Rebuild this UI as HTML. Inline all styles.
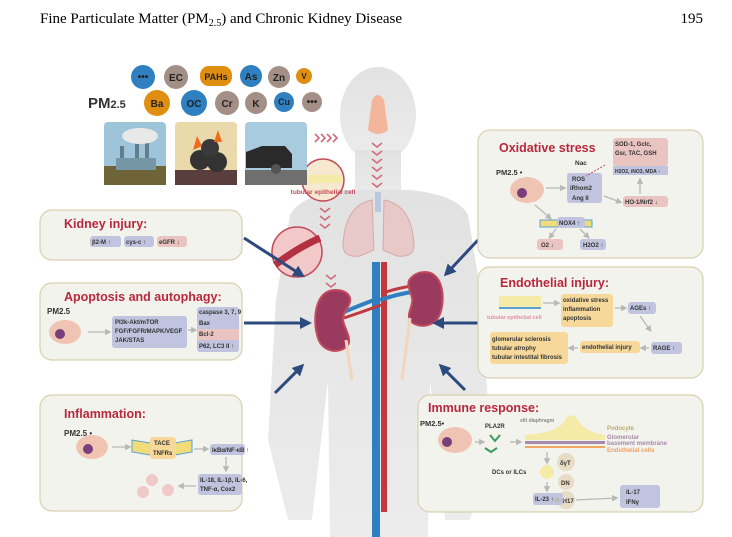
<!DOCTYPE html>
<html><head><meta charset="utf-8"><style>
html,body{margin:0;padding:0;background:#fff;}
svg{display:block;}
.t{font-family:"Liberation Sans",sans-serif;font-weight:bold;}
</style></head><body>
<svg width="732" height="537" viewBox="0 0 732 537" xmlns="http://www.w3.org/2000/svg">
<defs>
<marker id="ah" markerWidth="4" markerHeight="4" refX="2" refY="2" orient="auto"><path d="M0,0 L4,2 L0,4 z" fill="#2c4a7e"/></marker>
<marker id="ga" markerWidth="5" markerHeight="5" refX="3" refY="2.5" orient="auto"><path d="M0,0 L5,2.5 L0,5 z" fill="#b8b8b8"/></marker>
<linearGradient id="fade" x1="0" y1="0" x2="0" y2="1"><stop offset="0" stop-color="#e2e2e2"/><stop offset="1" stop-color="#ececec"/></linearGradient>
</defs>
<text x="40" y="23" font-family="Liberation Serif,serif" font-size="15">Fine Particulate Matter (PM<tspan font-size="10" dy="3">2.5</tspan><tspan dy="-3">) and Chronic Kidney Disease</tspan></text>
<text x="703" y="23" font-family="Liberation Serif,serif" font-size="15" text-anchor="end">195</text>

<!-- human silhouette -->
<g fill="url(#fade)">
<ellipse cx="378" cy="115" rx="38" ry="48"/>
<rect x="355" y="150" width="46" height="55"/>
<path d="M290,215 Q300,195 345,190 L410,190 Q458,195 468,215 L482,300 L490,440 L470,520 L445,520 L430,380 L428,537 L330,537 L328,380 L312,520 L288,520 L268,440 L276,300 Z"/>
</g>
<path d="M372,100 Q378,90 384,100 L388,130 Q378,138 368,130 Z" fill="#f4b69a"/>
<g fill="none" stroke="#d06a7c" stroke-width="1.6">
<path d="M372,143 l5,4 l5,-4 M372,151 l5,4 l5,-4 M372,159 l5,4 l5,-4 M372,167 l5,4 l5,-4 M372,175 l5,4 l5,-4 M372,183 l5,4 l5,-4"/>
<path d="M320,208 l5,4 l5,-4 M320,216 l5,4 l5,-4 M320,224 l5,4 l5,-4"/>
<path d="M326,275 l5,4 l5,-4 M326,283 l5,4 l5,-4"/>
<path d="M315,134 l4,4 l-4,4 M321,134 l4,4 l-4,4 M327,134 l4,4 l-4,4 M333,134 l4,4 l-4,4"/>
</g>
<!-- lungs -->
<path d="M372,200 Q345,205 343,245 Q343,258 360,256 L374,250 Z" fill="#e7c9c9" stroke="#d8a8a8"/>
<path d="M384,200 Q412,205 414,245 Q414,258 397,256 L383,250 Z" fill="#e7c9c9" stroke="#d8a8a8"/>
<rect x="375" y="192" width="6" height="20" fill="#b9c8dc"/>
<!-- vessels -->
<rect x="372" y="262" width="8" height="275" fill="#2f7fc1"/>
<rect x="381" y="262" width="6" height="250" fill="#c0393f"/>
<path d="M344,312 Q358,306 374,300" stroke="#2f7fc1" stroke-width="4" fill="none"/>
<path d="M344,318 Q362,312 381,305" stroke="#c0393f" stroke-width="3" fill="none"/>
<path d="M412,292 Q398,294 380,300" stroke="#2f7fc1" stroke-width="4" fill="none"/>
<path d="M412,286 Q398,288 386,292" stroke="#c0393f" stroke-width="3" fill="none"/>
<!-- kidneys -->
<path d="M335,290 C315,290 312,320 318,338 C322,352 340,355 348,345 C352,338 344,328 343,320 C342,312 352,305 350,298 C348,292 342,290 335,290Z" fill="#9a3a5e" stroke="#c24a5a" stroke-width="2"/>
<path d="M425,272 C445,272 446,305 438,318 C432,328 415,328 410,320 C406,314 414,305 412,298 C410,290 405,282 412,277 C416,273 420,272 425,272Z" fill="#9a3a5e" stroke="#c24a5a" stroke-width="2"/>
<path d="M346,340 L352,380" stroke="#f1d6bd" stroke-width="3"/>
<path d="M410,318 L402,380" stroke="#f1d6bd" stroke-width="3"/>
<!-- circles -->
<circle cx="323" cy="180" r="21" fill="#f7e8d0" stroke="#c24a5a" stroke-width="1.5"/>
<rect x="304" y="175" width="38" height="8" fill="#f4eba8"/>
<text x="323" y="194" class="t" font-size="6.5" fill="#c24a5a" text-anchor="middle">tubular epithelial cell</text>
<circle cx="297" cy="252" r="25" fill="#f2c8c8" stroke="#c24a5a" stroke-width="1.5"/>
<path d="M275,265 Q297,248 320,238" stroke="#b23040" stroke-width="7" fill="none"/>

<!-- navy arrows -->
<g stroke="#2c4a7e" stroke-width="3" marker-end="url(#ah)">
<line x1="244" y1="238" x2="300" y2="274"/>
<line x1="244" y1="323" x2="306" y2="323"/>
<line x1="275" y1="393" x2="300" y2="368"/>
<line x1="478" y1="240" x2="448" y2="272"/>
<line x1="478" y1="323" x2="438" y2="323"/>
<line x1="465" y1="390" x2="443" y2="368"/>
</g>

<!-- elements -->
<g class="t" font-size="10" text-anchor="middle">
<circle cx="143" cy="77" r="12" fill="#2f80c0"/><text x="143" y="80" fill="#222">•••</text>
<circle cx="176" cy="77" r="12" fill="#a48f86"/><text x="176" y="81" fill="#222">EC</text>
<rect x="200" y="66" width="32" height="20" rx="9" fill="#e08e12"/><text x="216" y="80" font-size="9" fill="#222">PAHs</text>
<circle cx="251" cy="76" r="11" fill="#2f80c0"/><text x="251" y="80" fill="#222">As</text>
<circle cx="279" cy="77" r="11" fill="#a48f86"/><text x="279" y="81" fill="#222">Zn</text>
<circle cx="304" cy="76" r="8" fill="#e08e12"/><text x="304" y="79" font-size="8" fill="#222">V</text>
<circle cx="157" cy="103" r="13" fill="#e08e12"/><text x="157" y="107" fill="#222">Ba</text>
<circle cx="194" cy="103" r="13" fill="#2f80c0"/><text x="194" y="107" fill="#222">OC</text>
<circle cx="227" cy="103" r="12" fill="#a48f86"/><text x="227" y="107" fill="#222">Cr</text>
<circle cx="256" cy="103" r="11" fill="#a48f86"/><text x="256" y="107" fill="#222">K</text>
<circle cx="284" cy="102" r="10" fill="#2f80c0"/><text x="284" y="105" font-size="9" fill="#222">Cu</text>
<circle cx="312" cy="102" r="10" fill="#a48f86"/><text x="312" y="105" fill="#222">•••</text>
</g>
<text x="88" y="108" class="t" font-size="15" fill="#333">PM<tspan font-size="11">2.5</tspan></text>
<!-- images -->
<rect x="104" y="122" width="62" height="63" rx="4" fill="#9ec4da"/><rect x="104" y="166" width="62" height="19" fill="#6e6438"/>
<rect x="120" y="146" width="4" height="20" fill="#5f7f8f"/><rect x="135" y="138" width="4" height="28" fill="#5f7f8f"/><rect x="145" y="132" width="4" height="34" fill="#5f7f8f"/>
<rect x="116" y="158" width="40" height="12" fill="#7597a5"/><ellipse cx="140" cy="136" rx="18" ry="8" fill="#e8e8e8"/>
<rect x="175" y="122" width="62" height="63" rx="4" fill="#e9d9ab"/><rect x="175" y="170" width="62" height="15" fill="#5a3e3e"/>
<circle cx="200" cy="160" r="10" fill="#333"/><circle cx="217" cy="162" r="10" fill="#333"/><circle cx="210" cy="148" r="9" fill="#3a3a3a"/>
<path d="M193,150 l4,-14 l5,10 z M214,142 l4,-12 l4,12 z" fill="#f06a1c"/>
<rect x="245" y="122" width="62" height="63" rx="4" fill="#a8cbe0"/><rect x="245" y="170" width="62" height="15" fill="#6f6f6f"/>
<path d="M246,152 L262,146 L285,146 L292,154 L292,168 L246,168 Z" fill="#2a2a2a"/><circle cx="276" cy="169" r="5" fill="#555"/>

<!-- boxes -->
<g fill="#f3f3ee" stroke="#d9d0b0" stroke-width="1.2">
<rect x="40" y="210" width="202" height="50" rx="12"/>
<rect x="40" y="283" width="202" height="77" rx="12"/>
<rect x="40" y="395" width="202" height="116" rx="12"/>
<rect x="478" y="130" width="225" height="128" rx="12"/>
<rect x="478" y="267" width="225" height="111" rx="12"/>
<rect x="418" y="395" width="285" height="117" rx="12"/>
</g>
<g class="t" fill="#b8283c" font-size="12.5">
<text x="64" y="228">Kidney injury:</text>
<text x="64" y="301">Apoptosis and autophagy:</text>
<text x="64" y="418">Inflammation:</text>
<text x="499" y="152">Oxidative stress</text>
<text x="500" y="287">Endothelial injury:</text>
<text x="428" y="412">Immune response:</text>
</g>
<g class="t" font-size="6" fill="#333">
<rect x="90" y="236" width="31" height="11" rx="3" fill="#c0c4de"/><text x="92" y="244">β2-M ↑</text>
<rect x="124" y="236" width="30" height="11" rx="3" fill="#c0c4de"/><text x="126" y="244">cys-c ↑</text>
<rect x="157" y="236" width="30" height="11" rx="3" fill="#e9c4c0"/><text x="159" y="244">eGFR ↓</text>
<text x="47" y="314" font-size="8">PM2.5</text>
<ellipse cx="65" cy="332" rx="16" ry="12" fill="#efc4b2"/><circle cx="60" cy="334" r="5" fill="#7a3e7a"/>
<rect x="112" y="316" width="75" height="32" rx="3" fill="#c0c4de"/>
<text x="115" y="324">PI3k-Akt/mTOR</text><text x="115" y="333">FGF/FGFR/MAPK/VEGF</text><text x="115" y="342">JAK/STAS</text>
<rect x="197" y="307" width="42" height="45" rx="3" fill="#c0c4de"/><rect x="197" y="329" width="42" height="11" fill="#e9c4c0"/>
<text x="199" y="314">caspase 3, 7, 9</text><text x="199" y="325">Bax</text><text x="199" y="336">Bcl-2</text><text x="199" y="348">P62, LC3 II ↑</text>
<text x="64" y="436" font-size="8">PM2.5 •</text>
<ellipse cx="92" cy="447" rx="16" ry="12" fill="#efc4b2"/><circle cx="88" cy="449" r="5" fill="#7a3e7a"/>
<path d="M132,440 L150,443 L175,443 L192,440 L192,452 L175,455 L150,455 L132,452Z" fill="#f1dc7a" stroke="#5aa0d0"/>
<rect x="150" y="437" width="26" height="22" rx="3" fill="#f6d99a"/>
<text x="154" y="445">TACE</text><text x="153" y="455">TNFRs</text>
<rect x="210" y="444" width="35" height="11" rx="3" fill="#c0c4de"/><text x="212" y="452">IκBα/NF-κB ↑</text>
<rect x="198" y="474" width="44" height="21" rx="3" fill="#c0c4de"/><text x="200" y="482">IL-18, IL-1β, IL-6,</text><text x="200" y="491">TNF-α, Cox2</text>
<circle cx="152" cy="480" r="6" fill="#f0c8c8"/><circle cx="143" cy="492" r="6" fill="#f0c8c8"/><circle cx="168" cy="490" r="6" fill="#f0c8c8"/>
<text x="496" y="175" font-size="7.5">PM2.5 •</text>
<ellipse cx="527" cy="190" rx="17" ry="13" fill="#efc4b2"/><circle cx="522" cy="193" r="5" fill="#7a3e7a"/>
<text x="575" y="165" font-size="6.5">Nac</text>
<rect x="567" y="173" width="35" height="30" rx="3" fill="#c0c4de"/><text x="572" y="181">ROS</text><text x="570" y="190">iRhom2</text><text x="572" y="200">Ang II</text>
<rect x="613" y="138" width="55" height="28" rx="3" fill="#e9c4c0"/><text x="615" y="146">SOD-1, Gclc,</text><text x="615" y="155">Gsr, TAC, GSH</text>
<rect x="613" y="166" width="55" height="9" fill="#c0c4de"/><text x="615" y="173" font-size="5">H2O2, iNO3, MDA ↑</text>
<rect x="623" y="196" width="45" height="11" rx="3" fill="#e9c4c0"/><text x="625" y="204">HO-1/Nrf2 ↓</text>
<rect x="540" y="220" width="52" height="7" fill="#f1dc7a" stroke="#5aa0d0"/>
<rect x="557" y="217" width="28" height="11" rx="3" fill="#c0c4de"/><text x="559" y="225">NOX4 ↑</text>
<rect x="537" y="239" width="26" height="11" rx="3" fill="#e9c4c0"/><text x="541" y="247">O2 ↓</text>
<rect x="580" y="239" width="26" height="11" rx="3" fill="#c0c4de"/><text x="583" y="247">H2O2 ↑</text>
<rect x="499" y="296" width="42" height="12" fill="#f4eba8"/><rect x="499" y="307" width="42" height="2" fill="#5aa0d0"/>
<text x="487" y="319" fill="#e08ea0" font-size="5.5">tubular epithelial cell</text>
<rect x="561" y="294" width="52" height="33" rx="3" fill="#f6d99a"/><text x="563" y="302">oxidative stress</text><text x="563" y="311">inflammation</text><text x="563" y="320">apoptosis</text>
<rect x="628" y="302" width="28" height="12" rx="3" fill="#c0c4de"/><text x="630" y="310">AGEs ↑</text>
<rect x="651" y="342" width="31" height="12" rx="3" fill="#c0c4de"/><text x="653" y="350">RAGE ↑</text>
<rect x="580" y="341" width="60" height="12" rx="3" fill="#f6d99a"/><text x="582" y="349">endothelial injury</text>
<rect x="490" y="332" width="78" height="32" rx="3" fill="#f6d99a"/><text x="492" y="341">glomerular sclerosis</text><text x="492" y="350">tubular atrophy</text><text x="492" y="359">tubular intestital fibrosis</text>
<text x="420" y="426" font-size="7.5">PM2.5•</text>
<ellipse cx="455" cy="440" rx="17" ry="13" fill="#efc4b2"/><circle cx="447" cy="442" r="5" fill="#7a3e7a"/>
<text x="485" y="428">PLA2R</text>
<path d="M490,435 l5,6 l5,-6 M485,448 l6,4 l6,-4" stroke="#3a9a5a" stroke-width="2" fill="none"/>
<text x="520" y="422" font-size="5" fill="#888">slit diaphragm</text>
<path d="M525,435 Q560,432 565,420 Q572,410 578,420 Q585,432 605,435 L605,440 L525,440Z" fill="#f4eba8"/>
<rect x="525" y="441" width="80" height="3" fill="#a88aaa"/>
<rect x="525" y="446" width="80" height="2" fill="#f0a860"/>
<text x="607" y="430" fill="#b9ac6a">Podocyte</text>
<text x="607" y="439" fill="#a88aaa">Glomerular</text><text x="607" y="445" fill="#a88aaa">basement membrane</text>
<text x="607" y="452" fill="#f0a060">Endothelial cells</text>
<text x="492" y="474">DCs or ILCs</text>
<circle cx="547" cy="472" r="7" fill="#f4eba8"/>
<circle cx="566" cy="462" r="9" fill="#e8dcc6"/><text x="560" y="465">δγT</text>
<circle cx="566" cy="482" r="8" fill="#e8dcc6"/><text x="561" y="485">DN</text>
<circle cx="566" cy="500" r="9" fill="#e8dcc6"/><text x="559" y="503">TH17</text>
<rect x="533" y="493" width="30" height="12" rx="3" fill="#c0c4de"/><text x="535" y="501">IL-23 ↑</text>
<rect x="620" y="485" width="40" height="23" rx="3" fill="#c0c4de"/><text x="626" y="494">IL-17</text><text x="626" y="504">IFNγ</text>
</g>
<g stroke="#b8b8b8" stroke-width="1.3" marker-end="url(#ga)" fill="none">
<line x1="88" y1="332" x2="109" y2="332"/><line x1="188" y1="330" x2="195" y2="330"/>
<line x1="112" y1="447" x2="129" y2="447"/><line x1="194" y1="449" x2="207" y2="449"/>
<line x1="226" y1="457" x2="226" y2="470"/><line x1="196" y1="486" x2="180" y2="486"/>
<line x1="546" y1="188" x2="564" y2="188"/><line x1="604" y1="196" x2="620" y2="202"/>
<line x1="640" y1="194" x2="640" y2="180"/><line x1="535" y1="205" x2="550" y2="218"/>
<line x1="556" y1="229" x2="550" y2="237"/><line x1="580" y1="229" x2="588" y2="237"/>
<line x1="543" y1="303" x2="558" y2="303"/><line x1="615" y1="308" x2="625" y2="308"/>
<line x1="640" y1="316" x2="650" y2="330"/><line x1="649" y1="348" x2="642" y2="348"/><line x1="578" y1="348" x2="570" y2="348"/>
<line x1="475" y1="442" x2="483" y2="442"/><line x1="510" y1="442" x2="520" y2="442"/>
<line x1="547" y1="452" x2="547" y2="462"/><line x1="547" y1="482" x2="547" y2="490"/>
<line x1="565" y1="500" x2="555" y2="500"/><line x1="576" y1="500" x2="616" y2="498"/>
</g>
<path d="M605,165 L586,176" stroke="#c24a5a" stroke-width="1" stroke-dasharray="2,1.5" fill="none"/>
</svg>
</body></html>
